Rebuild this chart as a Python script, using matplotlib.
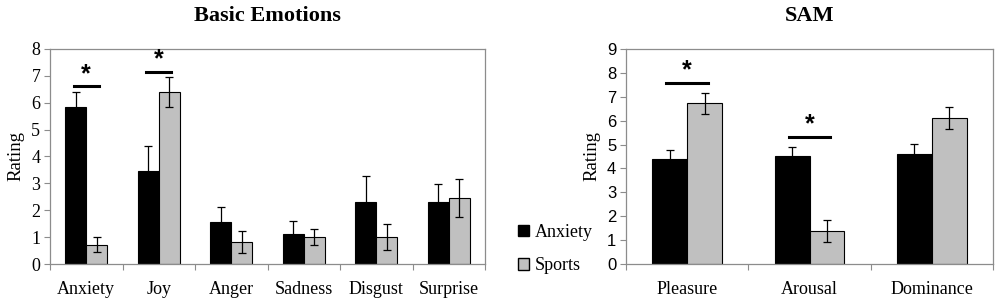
import numpy as np
import matplotlib
matplotlib.use("Agg")
from matplotlib import pyplot as plt
from matplotlib.patches import Patch

# Basic emotions
emo_labels = ["Anxiety", "Joy", "Anger", "Sadness", "Disgust", "Surprise"]
emo_anx = [5.83, 3.47, 1.56, 1.11, 2.30, 2.30]
emo_anx_err = [0.56, 0.91, 0.57, 0.48, 0.99, 0.67]
emo_spo = [0.73, 6.39, 0.84, 1.00, 1.00, 2.46]
emo_spo_err = [0.27, 0.57, 0.41, 0.30, 0.48, 0.72]
emo_sig = [0, 1]

# SAM
sam_labels = ["Pleasure", "Arousal", "Dominance"]
sam_anx = [4.41, 4.52, 4.62]
sam_anx_err = [0.35, 0.39, 0.41]
sam_spo = [6.72, 1.40, 6.11]
sam_spo_err = [0.43, 0.46, 0.47]
sam_sig = [0, 1]

serif = "Liberation Serif"
sans = "Liberation Sans"
grey = "#c0c0c0"
frame = "#8c8c8c"

fig = plt.figure(figsize=(10, 3.03), dpi=100)
ax1 = fig.add_axes([0.050, 0.128, 0.435, 0.711])
ax2 = fig.add_axes([0.626, 0.128, 0.367, 0.711])


def draw(ax, labels, anx, anx_err, spo, spo_err, ymax, sig, sig_y, w, tickfont, ticksize):
    x = np.arange(len(labels)) + 0.5
    ax.bar(x - w / 2, anx, w, color="black", edgecolor="black", linewidth=0.8)
    ax.bar(x + w / 2, spo, w, color=grey, edgecolor="black", linewidth=0.8)
    ax.errorbar(x - w / 2, anx, yerr=anx_err, fmt="none", ecolor="black",
                elinewidth=0.9, capsize=3, capthick=0.9)
    ax.errorbar(x + w / 2, spo, yerr=spo_err, fmt="none", ecolor="black",
                elinewidth=0.9, capsize=3, capthick=0.9)
    ax.set_xlim(0, len(labels))
    ax.set_ylim(0, ymax)
    ax.set_yticks(range(ymax + 1))
    ax.set_yticklabels([str(v) for v in range(ymax + 1)], family=tickfont, fontsize=ticksize)
    ax.set_xticks(np.arange(len(labels) + 1))
    ax.set_xticklabels([])
    ax.set_xticks(x, minor=True)
    ax.set_xticklabels(labels, minor=True, family=serif, fontsize=13)
    ax.tick_params(axis="x", which="minor", length=0, pad=12)
    ax.tick_params(axis="x", which="major", length=4, color=frame, direction="out")
    ax.tick_params(axis="y", length=4, color=frame, pad=3)
    for s in ax.spines.values():
        s.set_color(frame)
        s.set_linewidth(0.9)
    ax.set_ylabel("Rating", family=serif, fontsize=13.5, labelpad=5)
    for i, y in zip(sig, sig_y):
        xc = x[i]
        ax.plot([xc - w * 0.6, xc + w * 0.6], [y, y], color="black", lw=2.2)
        ax.text(xc, y + 0.02, "*", ha="center", va="bottom", fontsize=18,
                fontweight="bold", family=sans)


draw(ax1, emo_labels, emo_anx, emo_anx_err, emo_spo, emo_spo_err, 8,
     emo_sig, [6.6, 7.14], 0.29, serif, 13)
draw(ax2, sam_labels, sam_anx, sam_anx_err, sam_spo, sam_spo_err, 9,
     sam_sig, [7.59, 5.31], 0.286, sans, 12)

ax1.set_title("Basic Emotions", family=serif, fontweight="bold", fontsize=16, pad=20)
ax2.set_title("SAM", family=serif, fontweight="bold", fontsize=16, pad=20)

handles = [Patch(facecolor="black", edgecolor="black"),
           Patch(facecolor=grey, edgecolor="black")]
fig.legend(handles, ["Anxiety", "Sports"], loc="center left",
           bbox_to_anchor=(0.502, 0.178), frameon=False,
           prop={"family": serif, "size": 13}, handlelength=0.6,
           handleheight=0.6, handletextpad=0.3, labelspacing=0.9)

fig.savefig("out.png", dpi=100)
